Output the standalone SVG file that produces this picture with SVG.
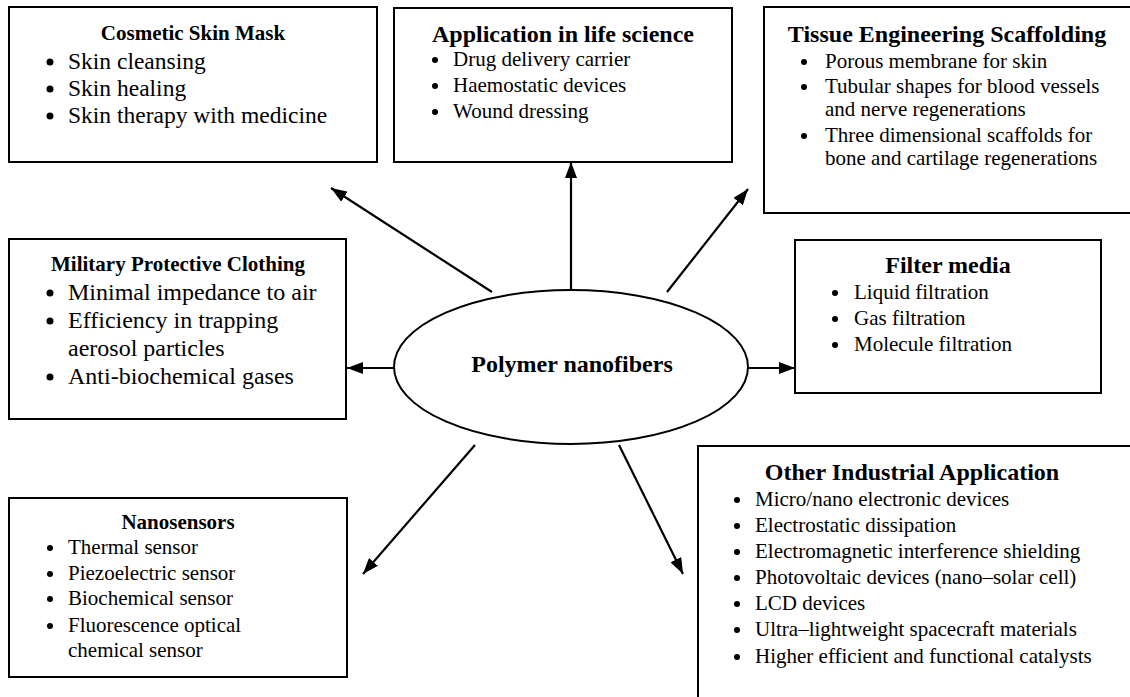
<svg xmlns="http://www.w3.org/2000/svg" width="1130" height="697" viewBox="0 0 1130 697">
<style>
.box{fill:#fff;stroke:#000;stroke-width:2}
.t{font-family:"Liberation Serif","Times New Roman",serif;fill:#000}
.h{font-weight:bold;text-anchor:middle}
.s24{font-size:24px}
.s23{font-size:23.5px}
.s21{font-size:21px}
.b{fill:#000}
.c{stroke:#000;stroke-width:2.2;fill:none;marker-end:url(#ah)}
</style>
<defs>
<marker id="ah" viewBox="0 0 16 12" refX="16" refY="6" markerWidth="16" markerHeight="12" markerUnits="userSpaceOnUse" orient="auto">
<path d="M0,0 L16,6 L0,12 z" fill="#000"/>
</marker>
</defs>
<rect width="1130" height="697" fill="#fff"/>

<g id="cosmetic">
<rect class="box" x="9" y="7" width="368" height="155"/>
<text class="t h" x="193" y="40" font-size="21">Cosmetic Skin Mask</text>
<circle class="b" cx="50" cy="62" r="3.5"/><text class="t s23" x="68" y="69">Skin cleansing</text>
<circle class="b" cx="50" cy="89" r="3.5"/><text class="t s23" x="68" y="96">Skin healing</text>
<circle class="b" cx="50" cy="116" r="3.5"/><text class="t s23" x="68" y="123">Skin therapy with medicine</text>
</g>

<g id="lifescience">
<rect class="box" x="394" y="8" width="338" height="154"/>
<text class="t h s24" x="563" y="42">Application in life science</text>
<circle class="b" cx="435" cy="60" r="3"/><text class="t s21" x="453" y="66">Drug delivery carrier</text>
<circle class="b" cx="435" cy="86" r="3"/><text class="t s21" x="453" y="92">Haemostatic devices</text>
<circle class="b" cx="435" cy="112" r="3"/><text class="t s21" x="453" y="118">Wound dressing</text>
</g>

<g id="tissue">
<rect class="box" x="764" y="7" width="380" height="206"/>
<text class="t h s24" x="947" y="42">Tissue Engineering Scaffolding</text>
<circle class="b" cx="804" cy="62" r="3"/><text class="t s21" x="825" y="68">Porous membrane for skin</text>
<circle class="b" cx="804" cy="87" r="3"/><text class="t s21" x="825" y="93">Tubular shapes for blood vessels</text>
<text class="t s21" x="825" y="116">and nerve regenerations</text>
<circle class="b" cx="804" cy="136" r="3"/><text class="t s21" x="825" y="142">Three dimensional scaffolds for</text>
<text class="t s21" x="825" y="165">bone and cartilage regenerations</text>
</g>

<g id="military">
<rect class="box" x="9" y="239" width="337" height="180"/>
<text class="t h" x="178" y="271" font-size="21">Military Protective Clothing</text>
<circle class="b" cx="50" cy="293" r="3.5"/><text class="t s24" x="68" y="300">Minimal impedance to air</text>
<circle class="b" cx="50" cy="321" r="3.5"/><text class="t s24" x="68" y="328">Efficiency in trapping</text>
<text class="t s24" x="68" y="356">aerosol particles</text>
<circle class="b" cx="50" cy="377" r="3.5"/><text class="t s24" x="68" y="384">Anti-biochemical gases</text>
</g>

<g id="filter">
<rect class="box" x="795" y="240" width="306" height="153"/>
<text class="t h s24" x="948" y="273">Filter media</text>
<circle class="b" cx="835" cy="293" r="3"/><text class="t s21" x="854" y="299">Liquid filtration</text>
<circle class="b" cx="835" cy="319" r="3"/><text class="t s21" x="854" y="325">Gas filtration</text>
<circle class="b" cx="835" cy="345" r="3"/><text class="t s21" x="854" y="351">Molecule filtration</text>
</g>

<g id="nanosensors">
<rect class="box" x="9" y="498" width="338" height="179"/>
<text class="t h" x="178" y="529" font-size="21">Nanosensors</text>
<circle class="b" cx="50" cy="548" r="3"/><text class="t s21" x="68" y="554">Thermal sensor</text>
<circle class="b" cx="50" cy="574" r="3"/><text class="t s21" x="68" y="580">Piezoelectric sensor</text>
<circle class="b" cx="50" cy="599" r="3"/><text class="t s21" x="68" y="605">Biochemical sensor</text>
<circle class="b" cx="50" cy="626" r="3"/><text class="t s21" x="68" y="632">Fluorescence optical</text>
<text class="t s21" x="68" y="657">chemical sensor</text>
</g>

<g id="industrial">
<rect class="box" x="698" y="446" width="450" height="270"/>
<text class="t h s24" x="912" y="480">Other Industrial Application</text>
<circle class="b" cx="737" cy="500" r="3"/><text class="t s21" x="755" y="506">Micro/nano electronic devices</text>
<circle class="b" cx="737" cy="526" r="3"/><text class="t s21" x="755" y="532">Electrostatic dissipation</text>
<circle class="b" cx="737" cy="552" r="3"/><text class="t s21" x="755" y="558">Electromagnetic interference shielding</text>
<circle class="b" cx="737" cy="578" r="3"/><text class="t s21" x="755" y="584">Photovoltaic devices (nano–solar cell)</text>
<circle class="b" cx="737" cy="604" r="3"/><text class="t s21" x="755" y="610">LCD devices</text>
<circle class="b" cx="737" cy="630" r="3"/><text class="t s21" x="755" y="636">Ultra–lightweight spacecraft materials</text>
<circle class="b" cx="737" cy="657" r="3"/><text class="t s21" x="755" y="663">Higher efficient and functional catalysts</text>
</g>

<g id="center">
<ellipse cx="571" cy="367" rx="177" ry="77" fill="#fff" stroke="#000" stroke-width="2"/>
<text class="t h s24" x="572" y="372">Polymer nanofibers</text>
</g>

<g id="connectors">
<line class="c" x1="571" y1="290" x2="571" y2="162"/>
<line class="c" x1="492" y1="292" x2="331" y2="188"/>
<line class="c" x1="667" y1="292" x2="748" y2="189"/>
<line class="c" x1="394" y1="368" x2="347" y2="368"/>
<line class="c" x1="748" y1="368" x2="795" y2="368"/>
<line class="c" x1="475" y1="445" x2="363" y2="574"/>
<line class="c" x1="619" y1="445" x2="683" y2="574"/>
</g>
</svg>
